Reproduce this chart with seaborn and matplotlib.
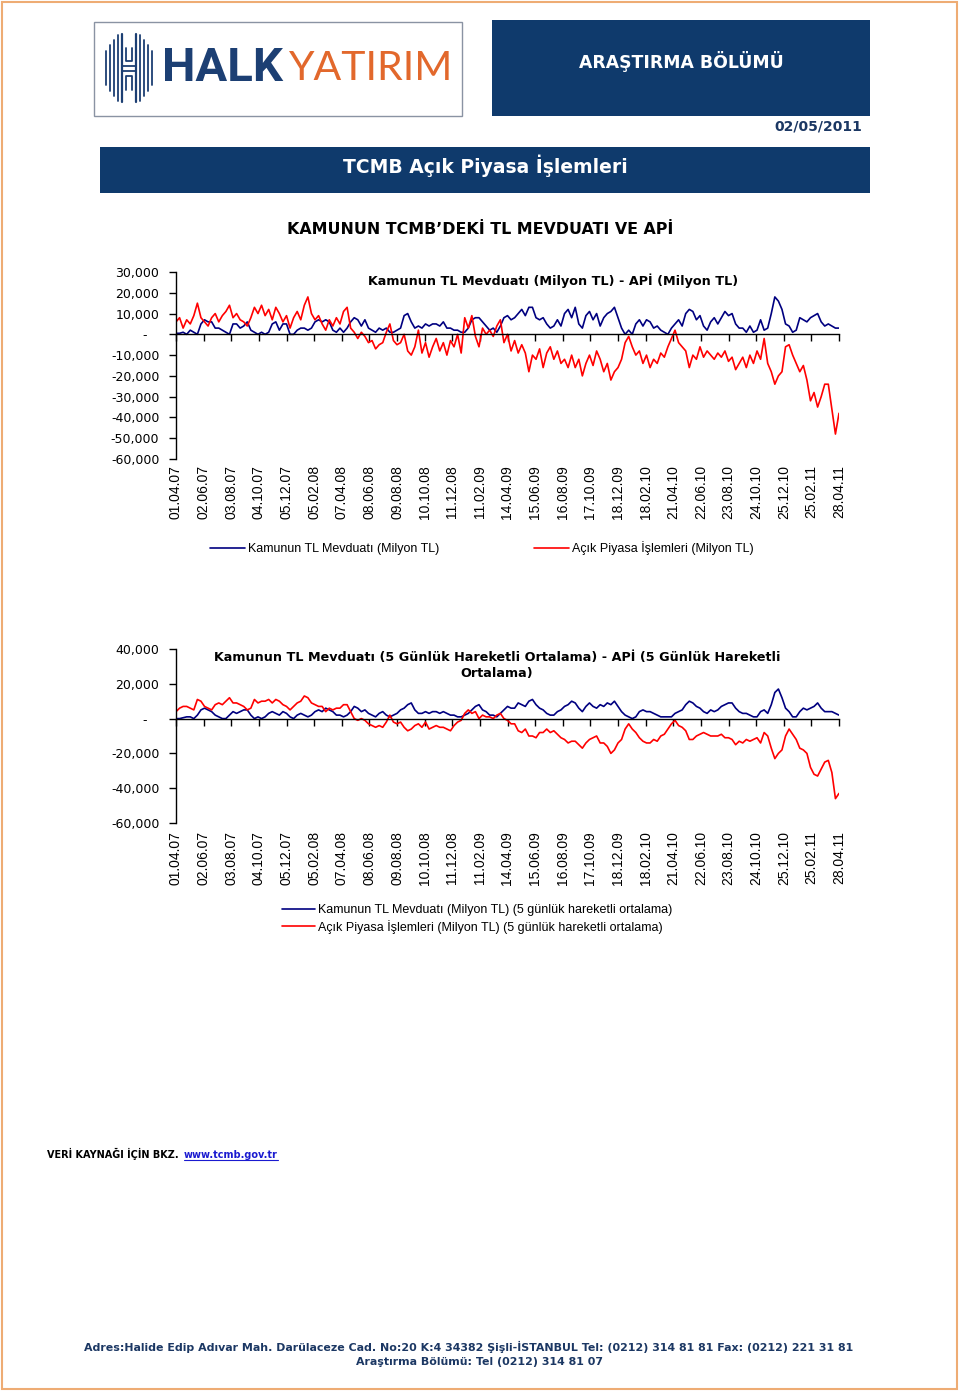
import numpy as np
import pandas as pd
import matplotlib
matplotlib.use('Agg')
import matplotlib.pyplot as plt
import seaborn as sns
from matplotlib.patches import Rectangle
from matplotlib.lines import Line2D
from matplotlib.ticker import FuncFormatter

# Data (values in thousand million TL, one reading every 8 days from 01.04.2007)
start_date = '2007-04-01'
step_days = 8

mevduat = [0.5, 0.5, 1, 0, 2, 1, 0, 5, 7, 6,
           6, 3, 3, 2, 1, 0, 5, 5, 3, 4,
           6, 2, 1, 0, 1, 0, 1, 5, 6, 2,
           5, 5, 0, 0, 2, 3, 3, 2, 3, 6,
           7, 6, 7, 6, 2, 1, 3, 1, 3, 6,
           8, 7, 4, 7, 3, 2, 1, 3, 2, 3,
           1, 1, 2, 3, 9, 10, 6, 3, 4, 3,
           5, 4, 5, 5, 4, 6, 3, 3, 2, 2,
           1, 1, 3, 7, 8, 8, 6, 4, 2, 3,
           1, 4, 8, 9, 7, 8, 10, 12, 9, 13,
           13, 8, 7, 8, 5, 3, 4, 7, 4, 10,
           12, 8, 13, 5, 3, 9, 11, 7, 10, 4,
           8, 10, 11, 13, 8, 3, 0, 2, 0, 5,
           7, 4, 7, 6, 3, 4, 2, 1, 0, 3,
           5, 7, 4, 10, 12, 11, 7, 9, 4, 2,
           6, 8, 5, 8, 11, 9, 10, 5, 3, 3,
           1, 4, 1, 2, 7, 2, 3, 10, 18, 16,
           12, 5, 4, 1, 2, 8, 7, 6, 8, 9,
           10, 6, 4, 5, 4, 3, 3]

api = [6, 8, 3, 7, 5, 9, 15, 8, 6, 4,
       8, 10, 6, 9, 11, 14, 8, 10, 7, 6,
       4, 8, 13, 10, 14, 9, 12, 7, 13, 10,
       6, 9, 3, 8, 11, 7, 14, 18, 10, 7,
       9, 5, 2, 7, 4, 8, 5, 11, 13, 3,
       1, -2, 1, -1, -4, -3, -7, -5, -4, 1,
       5, -3, -5, -4, 0, -8, -10, -6, 2, -9,
       -4, -11, -6, -2, -8, -4, -10, -3, -6, 0,
       -9, 8, 3, 9, -1, -6, 3, 0, 2, -1,
       4, 7, -4, 0, -8, -3, -9, -5, -9, -18,
       -10, -12, -7, -16, -9, -6, -12, -8, -14, -12,
       -16, -10, -16, -12, -20, -14, -10, -15, -8, -12,
       -18, -14, -22, -18, -16, -12, -4, -1, -6, -10,
       -8, -14, -10, -16, -12, -14, -9, -11, -6, -2,
       2, -4, -6, -8, -16, -10, -12, -6, -11, -8,
       -10, -12, -9, -11, -8, -13, -11, -17, -14, -11,
       -16, -10, -14, -8, -12, -2, -14, -18, -24, -20,
       -18, -6, -5, -10, -14, -18, -15, -22, -32, -28,
       -35, -30, -24, -24, -36, -48, -38]

# 5-day moving averages
mevduat_ma = [0, 0, 0.5, 1, 1, 0, 2, 5, 6, 5,
              4, 2, 1, 0, 0, 2, 4, 3, 4, 5,
              5, 2, 0, 1, 0, 1, 3, 4, 3, 2,
              4, 3, 1, 0, 2, 3, 2, 1, 2, 4,
              5, 4, 6, 5, 4, 2, 2, 1, 2, 4,
              7, 6, 4, 5, 3, 2, 1, 3, 4, 2,
              1, 2, 3, 5, 6, 8, 9, 5, 3, 3,
              4, 3, 4, 4, 3, 4, 3, 2, 2, 1,
              1, 2, 3, 5, 7, 8, 5, 4, 2, 2,
              1, 3, 5, 7, 6, 6, 9, 8, 7, 10,
              11, 8, 6, 5, 3, 2, 2, 4, 5, 7,
              8, 10, 9, 6, 4, 7, 9, 7, 6, 8,
              7, 9, 8, 10, 7, 4, 2, 1, 0, 1,
              4, 5, 4, 4, 3, 2, 1, 1, 1, 1,
              3, 4, 5, 8, 10, 9, 7, 6, 4, 3,
              5, 4, 5, 7, 8, 9, 9, 6, 4, 3,
              3, 2, 1, 1, 4, 5, 3, 8, 15, 17,
              12, 6, 4, 1, 1, 4, 6, 5, 6, 7,
              9, 6, 4, 4, 4, 3, 2]

api_ma = [4, 6, 7, 7, 6, 5, 11, 10, 7, 6,
          5, 8, 9, 8, 10, 12, 9, 9, 8, 7,
          5, 6, 11, 9, 10, 10, 11, 9, 11, 10,
          8, 7, 5, 7, 9, 10, 13, 12, 9, 8,
          7, 7, 4, 6, 5, 6, 6, 8, 8, 4,
          0, -1, 0, -1, -3, -4, -5, -4, -5, -2,
          2, -2, -3, -2, -5, -7, -6, -4, -3, -5,
          -2, -6, -5, -4, -5, -5, -6, -7, -4, -2,
          -1, 3, 5, 3, 4, 0, 2, 1, 1, 0,
          2, 3, 0, -1, -3, -3, -7, -8, -6, -10,
          -10, -11, -8, -8, -6, -8, -7, -9, -11, -12,
          -14, -13, -13, -15, -17, -14, -12, -11, -10, -14,
          -14, -16, -20, -18, -14, -12, -6, -3, -6, -8,
          -11, -13, -14, -14, -12, -13, -10, -9, -6, -3,
          -1, -4, -5, -7, -12, -12, -10, -9, -8, -9,
          -10, -10, -10, -9, -11, -11, -12, -15, -13, -14,
          -12, -13, -12, -11, -14, -8, -10, -17, -23, -20,
          -18, -10, -6, -9, -12, -17, -18, -20, -28, -32,
          -33, -29, -25, -24, -31, -46, -43]

tick_dates = ['01.04.07', '02.06.07', '03.08.07', '04.10.07', '05.12.07',
              '05.02.08', '07.04.08', '08.06.08', '09.08.08', '10.10.08',
              '11.12.08', '11.02.09', '14.04.09', '15.06.09', '16.08.09',
              '17.10.09', '18.12.09', '18.02.10', '21.04.10', '22.06.10',
              '23.08.10', '24.10.10', '25.12.10', '25.02.11', '28.04.11']

yticks_top = [30000, 20000, 10000, 0, -10000, -20000, -30000, -40000, -50000, -60000]
yticks_bottom = [40000, 20000, 0, -20000, -40000, -60000]

legend_top = ['Kamunun TL Mevduatı (Milyon TL)', 'Açık Piyasa İşlemleri (Milyon TL)']
legend_bottom = ['Kamunun TL Mevduatı (Milyon TL) (5 günlük hareketli ortalama)',
                 'Açık Piyasa İşlemleri (Milyon TL) (5 günlük hareketli ortalama)']

# Colors
BLUE = '#000080'
RED = '#ff0000'
BOX = '#0f3a6c'
TEXT_NAVY = '#1b3763'

sns.set_style('white')
plt.rcParams['font.family'] = ['DejaVu Sans']
plt.rcParams['text.color'] = 'black'

W, H = 960, 1396
fig = plt.figure(figsize=(W / 100, H / 100), dpi=100)

def fx(x):
    return x / W

def fy(y):
    return 1 - y / H

# Background layer in pixel coordinates
bg = fig.add_axes([0, 0, 1, 1])
bg.set_xlim(0, W)
bg.set_ylim(H, 0)
bg.axis('off')

bg.add_patch(Rectangle((2, 2), 955, 1387, fill=False, ec='#eeac74', lw=1.5))
bg.add_patch(Rectangle((94, 22), 368, 94, fill=False, ec='#8a93a3', lw=1))
bg.add_patch(Rectangle((492, 20), 378, 96, fc=BOX, ec='none'))
bg.add_patch(Rectangle((100, 147), 770, 46, fc=BOX, ec='none'))

# Logo
logo_c = '#1c3f73'
for k, hh in enumerate([17, 23, 28, 33]):
    bg.plot([106 + 4 * k] * 2, [68 - hh, 68 + hh], color=logo_c, lw=1.3)
    bg.plot([152 - 4 * k] * 2, [68 - hh, 68 + hh], color=logo_c, lw=1.3)
for xv in [122, 136]:
    bg.plot([xv, xv], [34, 102], color=logo_c, lw=1.6)
bg.plot([122, 136], [66, 66], color=logo_c, lw=1.3)
bg.plot([122, 136], [71, 71], color=logo_c, lw=1.3)
bg.plot([126, 126, 132, 132], [48, 61, 61, 48], color=logo_c, lw=1.3)
bg.plot([126, 126, 132, 132], [90, 76, 76, 90], color=logo_c, lw=1.3)
bg.text(162, 68, 'HALK', color=logo_c, fontsize=34, fontweight='bold',
        family=['Liberation Sans Narrow', 'Roboto'], ha='left', va='center')
bg.text(288, 68, 'YATIRIM', color='#e2682c', fontsize=29.5,
        family=['Liberation Sans Narrow', 'Lato'], ha='left', va='center')

bg.text(681, 62, 'ARAŞTIRMA BÖLÜMÜ', color='white', fontsize=12.4, fontweight='bold',
        ha='center', va='center')
bg.text(862, 126, '02/05/2011', color=TEXT_NAVY, fontsize=10, fontweight='bold',
        ha='right', va='center')
bg.text(485, 166, 'TCMB Açık Piyasa İşlemleri', color='white', fontsize=13.5,
        fontweight='bold', ha='center', va='center')
bg.text(480, 229, 'KAMUNUN TCMB’DEKİ TL MEVDUATI VE APİ', color='black', fontsize=11.4,
        fontweight='bold', ha='center', va='center')

# Chart titles
bg.text(553, 281, 'Kamunun TL Mevduatı (Milyon TL) - APİ (Milyon TL)', fontsize=9.2,
        fontweight='bold', ha='center', va='center')
bg.text(497, 666, 'Kamunun TL Mevduatı (5 Günlük Hareketli Ortalama) - APİ (5 Günlük Hareketli\nOrtalama)',
        fontsize=9.2, fontweight='bold', ha='center', va='center', multialignment='center',
        linespacing=1.3)

# x positions from the reading dates
start = pd.Timestamp(start_date)
days = np.array((pd.date_range(start, periods=len(api), freq=f'{step_days}D') - start).days)
tick_days = np.array((pd.to_datetime(tick_dates, format='%d.%m.%y') - start).days)


def yfmt(v, pos):
    return '-   ' if v == 0 else f'{v:,.0f}'


def make_chart(top, bottom, ylim, yticks, series, pad_x):
    ax = fig.add_axes([fx(176), fy(bottom), (839 - 176) / W, (bottom - top) / H])
    ax.set_facecolor('none')
    for vals, col in series:
        sns.lineplot(x=days, y=np.array(vals) * 1000, ax=ax, color=col, lw=1.2, legend=False)
    ax.set_xlim(0, tick_days[-1])
    ax.set_ylim(*ylim)
    ax.set_yticks(yticks)
    ax.yaxis.set_major_formatter(FuncFormatter(yfmt))
    for s in ['top', 'right']:
        ax.spines[s].set_visible(False)
    ax.spines['bottom'].set_position(('data', 0))
    ax.spines['left'].set_color('black')
    ax.spines['bottom'].set_color('black')
    ax.spines['left'].set_linewidth(1)
    ax.spines['bottom'].set_linewidth(1)
    ax.tick_params(axis='y', left=True, direction='out', length=5, width=1, pad=7,
                   labelsize=9, colors='black')
    ax.set_xticks(tick_days)
    ax.tick_params(axis='x', bottom=True, direction='out', length=5, width=1,
                   labelbottom=False, colors='black')
    ax.set_xlabel('')
    ax.set_ylabel('')
    sec = ax.secondary_xaxis('bottom')
    sec.set_xticks(tick_days, labels=tick_dates)
    sec.tick_params(length=0, pad=pad_x, labelsize=10, labelrotation=90, colors='black')
    sec.spines['bottom'].set_visible(False)
    for t in sec.get_xticklabels():
        t.set_fontfamily('Liberation Sans')
    return ax


ax1 = make_chart(272, 459, (-60000, 30000), yticks_top, [(mevduat, BLUE), (api, RED)], 4.5)
ax2 = make_chart(649, 823, (-60000, 40000), yticks_bottom, [(mevduat_ma, BLUE), (api_ma, RED)], 6)

handles = [Line2D([], [], color=BLUE, lw=1.2), Line2D([], [], color=RED, lw=1.2)]
ax1.legend(handles, legend_top, ncol=2, loc='center left',
           bbox_to_anchor=(fx(210), fy(548)), bbox_transform=fig.transFigure,
           frameon=False, prop={'family': 'Liberation Sans', 'size': 9},
           handlelength=2.8, handletextpad=0.25, columnspacing=7.6,
           borderpad=0, borderaxespad=0, labelcolor='black')
ax2.legend(handles, legend_bottom, ncol=1, loc='center left',
           bbox_to_anchor=(fx(282), fy(919)), bbox_transform=fig.transFigure,
           frameon=False, prop={'family': 'Liberation Sans', 'size': 9},
           handlelength=2.6, handletextpad=0.25, labelspacing=0.3,
           borderpad=0, borderaxespad=0, labelcolor='black')

# Footer
bg.text(47, 1158, 'VERİ KAYNAĞI İÇİN BKZ.', fontsize=7, fontweight='bold', ha='left',
        va='baseline', color='black')
url = bg.text(184, 1158, 'www.tcmb.gov.tr', fontsize=7, fontweight='bold', color='#1a1ad0',
              ha='left', va='baseline')
fig.canvas.draw()
bb = url.get_window_extent().transformed(bg.transData.inverted())
bg.plot([bb.x0, bb.x1], [1160, 1160], color='#1a1ad0', lw=0.8)

bg.text(469, 1347, 'Adres:Halide Edip Adıvar Mah. Darülaceze Cad. No:20 K:4 34382 Şişli-İSTANBUL '
        'Tel: (0212) 314 81 81 Fax: (0212) 221 31 81', fontsize=7.9, fontweight='bold',
        color=TEXT_NAVY, ha='center', va='center')
bg.text(480, 1362, 'Araştırma Bölümü: Tel (0212) 314 81 07', fontsize=7.9, fontweight='bold',
        color=TEXT_NAVY, ha='center', va='center')

fig.savefig('out.png', dpi=100)
